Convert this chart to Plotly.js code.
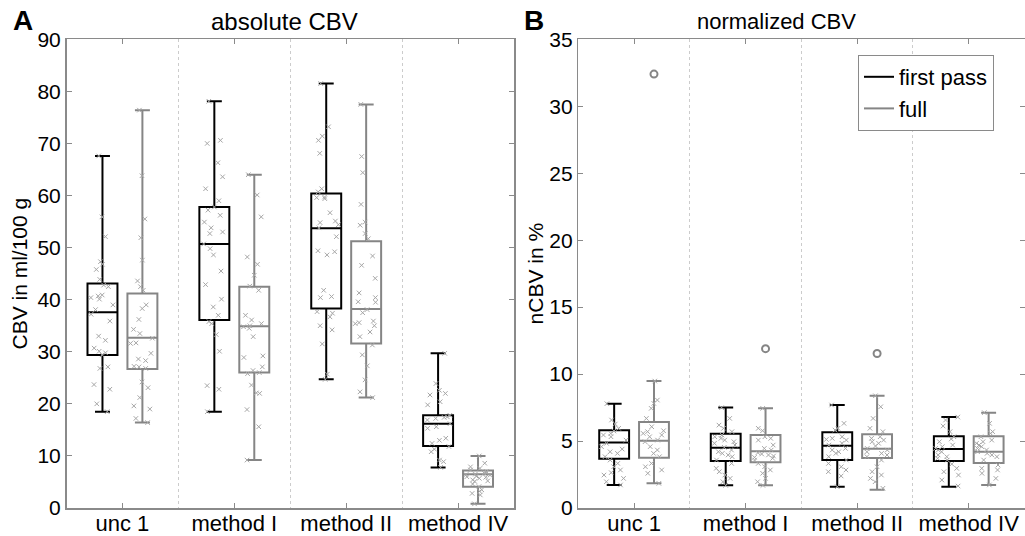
<!DOCTYPE html>
<html>
<head>
<meta charset="utf-8">
<script src="https://cdn.plot.ly/plotly-3.0.1.min.js"></script>
<style>html,body{margin:0;padding:0;background:#fff;}#chart{width:1025px;height:536px;}</style>
</head>
<body>
<div id="chart"></div>
<script>
// ---------- data ----------
const categories = ['unc 1', 'method I', 'method II', 'method IV'];
const seriesNames = ['first pass', 'full'];
const panelTitles = ['absolute CBV', 'normalized CBV'];
const panelLetters = ['A', 'B'];
const yTitles = ['CBV in ml/100 g', 'nCBV in %'];

// panel A: absolute CBV box statistics
const absFirstLow  = [18.5, 18.5, 24.7, 7.8];
const absFirstQ1   = [29.4, 36.1, 38.3, 11.9];
const absFirstMed  = [37.6, 50.7, 53.7, 16.2];
const absFirstQ3   = [43.1, 57.8, 60.4, 17.8];
const absFirstHigh = [67.6, 78.1, 81.5, 29.7];

const absFullLow  = [16.4, 9.2, 21.2, 0.8];
const absFullQ1   = [26.7, 26.0, 31.6, 4.1];
const absFullMed  = [32.7, 34.9, 38.2, 6.5];
const absFullQ3   = [41.2, 42.5, 51.2, 7.2];
const absFullHigh = [76.4, 64.0, 77.5, 10.0];

// panel A: individual values
const absFirstPoints = [
  [67.6, 55.9, 52.1, 47.3, 46.8, 45.8, 43.9, 42.8, 42.5, 40.9, 40.7, 40.4, 40.1, 39.0, 38.1, 37.2, 35.9, 33.0, 32.2, 30.7, 30.1, 29.8, 29.4, 27.1, 26.8, 23.7, 22.8, 20.0, 18.5],
  [78.1, 70.6, 70.0, 66.3, 63.6, 61.3, 59.0, 57.8, 57.2, 56.2, 54.9, 53.8, 53.0, 52.7, 50.7, 49.8, 48.6, 45.5, 42.9, 40.1, 38.6, 37.0, 35.8, 35.4, 33.3, 30.1, 23.5, 22.8, 18.5],
  [81.5, 73.2, 71.4, 70.6, 68.1, 61.3, 60.7, 59.7, 59.6, 59.4, 56.7, 55.1, 54.8, 54.4, 53.8, 52.1, 49.4, 49.2, 48.6, 41.8, 40.6, 40.4, 37.7, 37.4, 36.7, 35.0, 34.2, 31.5, 25.7, 24.7],
  [29.7, 23.9, 22.6, 22.0, 21.7, 20.4, 19.8, 17.8, 17.5, 17.4, 17.2, 16.9, 16.2, 15.6, 15.3, 13.4, 13.0, 12.4, 11.8, 11.3, 10.8, 9.2, 8.9, 7.8]
];
const absFullPoints = [
  [76.4, 63.8, 55.5, 51.9, 47.6, 43.6, 42.5, 41.8, 39.0, 38.3, 36.2, 34.3, 33.5, 32.6, 31.7, 31.6, 29.7, 28.6, 28.3, 27.2, 27.1, 26.8, 24.2, 23.1, 21.2, 19.6, 19.0, 17.2, 16.4],
  [64.0, 60.1, 55.9, 48.2, 46.8, 44.7, 42.6, 41.8, 37.0, 36.1, 35.4, 35.0, 34.8, 34.5, 32.9, 29.2, 28.9, 27.1, 26.4, 26.0, 25.8, 23.6, 22.1, 22.0, 18.9, 15.6, 9.2],
  [77.5, 67.5, 64.4, 58.3, 54.9, 54.3, 52.7, 51.7, 48.4, 46.6, 44.1, 41.3, 40.4, 39.6, 39.5, 38.1, 37.5, 35.9, 35.6, 35.4, 35.0, 33.8, 32.9, 31.3, 29.4, 27.3, 24.6, 22.3, 21.2],
  [10.0, 8.6, 7.9, 7.6, 7.3, 7.0, 6.8, 6.7, 6.5, 6.4, 6.3, 6.1, 6.0, 5.9, 5.7, 5.4, 5.2, 5.1, 4.6, 4.1, 3.5, 3.2, 2.8, 2.5, 0.8]
];

// panel B: normalized CBV box statistics
const normFirstLow  = [1.72, 1.69, 1.59, 1.59];
const normFirstQ1   = [3.68, 3.51, 3.58, 3.51];
const normFirstMed  = [4.90, 4.50, 4.65, 4.40];
const normFirstQ3   = [5.80, 5.55, 5.65, 5.35];
const normFirstHigh = [7.79, 7.51, 7.69, 6.79];

const normFullLow  = [1.84, 1.69, 1.37, 1.72];
const normFullQ1   = [3.76, 3.41, 3.73, 3.36];
const normFullMed  = [5.03, 4.23, 4.43, 4.20];
const normFullQ3   = [6.42, 5.45, 5.50, 5.35];
const normFullHigh = [9.48, 7.44, 8.38, 7.12];

const normFullOutliers = [32.4, 11.9, 11.54, null];

const normFirstPoints = [
  [7.79, 6.57, 6.27, 5.95, 5.75, 5.57, 5.45, 5.32, 5.07, 4.83, 4.58, 4.40, 4.20, 4.08, 3.83, 3.58, 3.33, 3.08, 2.84, 2.64, 2.46, 2.21, 1.96, 1.72],
  [7.49, 6.69, 6.19, 5.95, 5.70, 5.45, 5.32, 5.20, 5.07, 4.95, 4.83, 4.70, 4.53, 4.33, 4.20, 4.08, 3.96, 3.83, 3.58, 3.33, 2.96, 2.71, 2.46, 2.21, 1.96, 1.69],
  [7.69, 6.32, 5.95, 5.82, 5.32, 5.20, 5.12, 5.07, 4.83, 4.70, 4.45, 4.33, 4.20, 4.08, 3.83, 3.58, 3.33, 3.08, 2.84, 2.71, 2.39, 1.59],
  [6.79, 6.57, 6.12, 5.70, 5.32, 5.15, 4.95, 4.70, 4.58, 4.45, 4.33, 4.20, 3.96, 3.83, 3.71, 3.58, 3.28, 2.96, 2.71, 2.46, 2.09, 1.64]
];
const normFullPoints = [
  [9.48, 8.06, 7.81, 7.44, 6.69, 6.07, 5.77, 5.70, 5.57, 5.45, 5.32, 5.07, 4.95, 4.58, 4.33, 4.08, 3.83, 3.33, 3.08, 2.84, 2.59, 1.84],
  [7.44, 5.95, 5.77, 5.32, 5.20, 5.07, 4.70, 4.45, 4.33, 4.13, 4.03, 3.96, 3.88, 3.78, 3.71, 3.58, 3.33, 3.08, 2.84, 2.59, 2.21, 1.96, 1.69],
  [8.38, 7.56, 6.69, 5.95, 5.70, 5.32, 5.20, 5.07, 4.95, 4.83, 4.63, 4.45, 4.33, 4.20, 4.08, 3.96, 3.83, 3.58, 3.08, 2.71, 2.46, 2.21, 1.96, 1.47],
  [7.12, 6.32, 5.70, 5.57, 5.32, 5.07, 4.95, 4.83, 4.70, 4.58, 4.45, 4.33, 4.20, 4.08, 3.96, 3.83, 3.58, 3.21, 2.96, 2.84, 2.59, 2.21, 1.72]
];

// ---------- styling ----------
const FONT = 'Liberation Sans, Arial, Helvetica, sans-serif';
const BLACK = '#000000';
const GRAY = '#858585';
const PT = '#a6a6a6';
const AXC = '#8a8a8a';
const positions = categories.map((c, i) => i + 1);

function statBox(name, color, low, q1, med, q3, high, xa, ya) {
  return {
    type: 'box', name: name, x: positions, xaxis: xa, yaxis: ya,
    lowerfence: low, q1: q1, median: med, q3: q3, upperfence: high,
    boxpoints: false, offsetgroup: name, showlegend: false,
    line: {color: color, width: 2}, fillcolor: 'rgba(0,0,0,0)',
    whiskerwidth: 0.5, hoverinfo: 'skip'
  };
}
function pointBox(name, pts, xa, ya) {
  const xs = [], ys = [];
  pts.forEach((arr, i) => arr.forEach(v => { xs.push(positions[i]); ys.push(v); }));
  return {
    type: 'box', name: name, x: xs, y: ys, xaxis: xa, yaxis: ya,
    boxpoints: 'all', jitter: 0.9, pointpos: 0, offsetgroup: name, showlegend: false,
    line: {width: 0, color: 'rgba(0,0,0,0)'}, fillcolor: 'rgba(0,0,0,0)',
    marker: {symbol: 'x-thin', size: 4.5, color: PT, line: {width: 1, color: PT}},
    hoverinfo: 'skip'
  };
}
function outlierBox(name, vals, xa, ya) {
  const xs = [], ys = [];
  vals.forEach((v, i) => { if (v !== null) { xs.push(positions[i]); ys.push(v); } });
  return {
    type: 'box', name: name, x: xs, y: ys, xaxis: xa, yaxis: ya,
    boxpoints: 'all', jitter: 0, pointpos: 0, offsetgroup: name, showlegend: false,
    line: {width: 0, color: 'rgba(0,0,0,0)'}, fillcolor: 'rgba(0,0,0,0)',
    marker: {symbol: 'circle-open', size: 7, color: GRAY, line: {width: 2, color: GRAY}},
    hoverinfo: 'skip'
  };
}

const traces = [
  statBox(seriesNames[0], BLACK, absFirstLow, absFirstQ1, absFirstMed, absFirstQ3, absFirstHigh, 'x', 'y'),
  statBox(seriesNames[1], GRAY, absFullLow, absFullQ1, absFullMed, absFullQ3, absFullHigh, 'x', 'y'),
  pointBox(seriesNames[0], absFirstPoints, 'x', 'y'),
  pointBox(seriesNames[1], absFullPoints, 'x', 'y'),
  statBox(seriesNames[0], BLACK, normFirstLow, normFirstQ1, normFirstMed, normFirstQ3, normFirstHigh, 'x2', 'y2'),
  statBox(seriesNames[1], GRAY, normFullLow, normFullQ1, normFullMed, normFullQ3, normFullHigh, 'x2', 'y2'),
  pointBox(seriesNames[0], normFirstPoints, 'x2', 'y2'),
  pointBox(seriesNames[1], normFullPoints, 'x2', 'y2'),
  outlierBox(seriesNames[1], normFullOutliers, 'x2', 'y2'),
  {type: 'scatter', mode: 'lines', x: [null], y: [null], xaxis: 'x2', yaxis: 'y2', name: seriesNames[0], line: {color: BLACK, width: 2}},
  {type: 'scatter', mode: 'lines', x: [null], y: [null], xaxis: 'x2', yaxis: 'y2', name: seriesNames[1], line: {color: GRAY, width: 2}}
];

const W = 1025, H = 536;
const yDom = [(H - 508) / H, (H - 39.3) / H];

function xAxis(domain, anchor) {
  return {
    domain: domain, anchor: anchor, range: [0.5, 4.5], tickmode: 'array',
    tickvals: positions, ticktext: categories, ticks: 'inside', ticklen: 5,
    tickcolor: AXC, tickwidth: 1, mirror: 'ticks', showline: true, linecolor: AXC, linewidth: 1.5,
    showgrid: false, zeroline: false, fixedrange: true, ticklabelstandoff: -5,
    tickfont: {family: FONT, size: 22, color: '#000'},
    minor: {tickmode: 'linear', tick0: 0.5, dtick: 1, showgrid: true, gridcolor: '#cccccc', griddash: 'dot', gridwidth: 1, ticks: ''}
  };
}
function yAxis(range, dtick, title, anchor, standoff) {
  return {
    domain: yDom, anchor: anchor, range: range, dtick: dtick, ticks: 'inside', ticklen: 5,
    tickcolor: AXC, tickwidth: 1, mirror: 'ticks', showline: true, linecolor: AXC, linewidth: 1.5,
    showgrid: false, zeroline: false, fixedrange: true,
    tickfont: {family: FONT, size: 21, color: '#000'},
    title: {text: title, font: {family: FONT, size: 21, color: '#000'}, standoff: standoff}
  };
}

const layout = {
  width: W, height: H,
  margin: {l: 0, r: 0, t: 0, b: 0},
  paper_bgcolor: '#fff', plot_bgcolor: '#fff',
  font: {family: FONT, color: '#000'},
  boxmode: 'group', boxgap: 0.286, boxgroupgap: 0.25,
  xaxis: xAxis([66.5 / W, 514 / W], 'y'),
  yaxis: yAxis([0, 90], 10, yTitles[0], 'x', 4),
  xaxis2: xAxis([578.3 / W, 1024.5 / W], 'y2'),
  yaxis2: yAxis([0, 35], 5, yTitles[1], 'x2', 0),
  showlegend: true,
  legend: {
    x: 858 / W, y: 1 - 55 / H, xanchor: 'left', yanchor: 'top',
    bordercolor: AXC, borderwidth: 1, bgcolor: '#fff',
    font: {family: FONT, size: 22, color: '#000'}, itemwidth: 30, tracegroupgap: 0
  },
  annotations: [
    {text: panelTitles[0], xref: 'paper', yref: 'paper', x: 284 / W, y: 1 - 21 / H, xanchor: 'center', yanchor: 'middle', showarrow: false, font: {family: FONT, size: 24}},
    {text: panelTitles[1], xref: 'paper', yref: 'paper', x: 776 / W, y: 1 - 21 / H, xanchor: 'center', yanchor: 'middle', showarrow: false, font: {family: FONT, size: 22}},
    {text: '<b>' + panelLetters[0] + '</b>', xref: 'paper', yref: 'paper', x: 23 / W, y: 1 - 20 / H, xanchor: 'center', yanchor: 'middle', showarrow: false, font: {family: FONT, size: 28}},
    {text: '<b>' + panelLetters[1] + '</b>', xref: 'paper', yref: 'paper', x: 534 / W, y: 1 - 20 / H, xanchor: 'center', yanchor: 'middle', showarrow: false, font: {family: FONT, size: 28}}
  ]
};

Plotly.newPlot('chart', traces, layout, {displayModeBar: false, staticPlot: true});
</script>
</body>
</html>
